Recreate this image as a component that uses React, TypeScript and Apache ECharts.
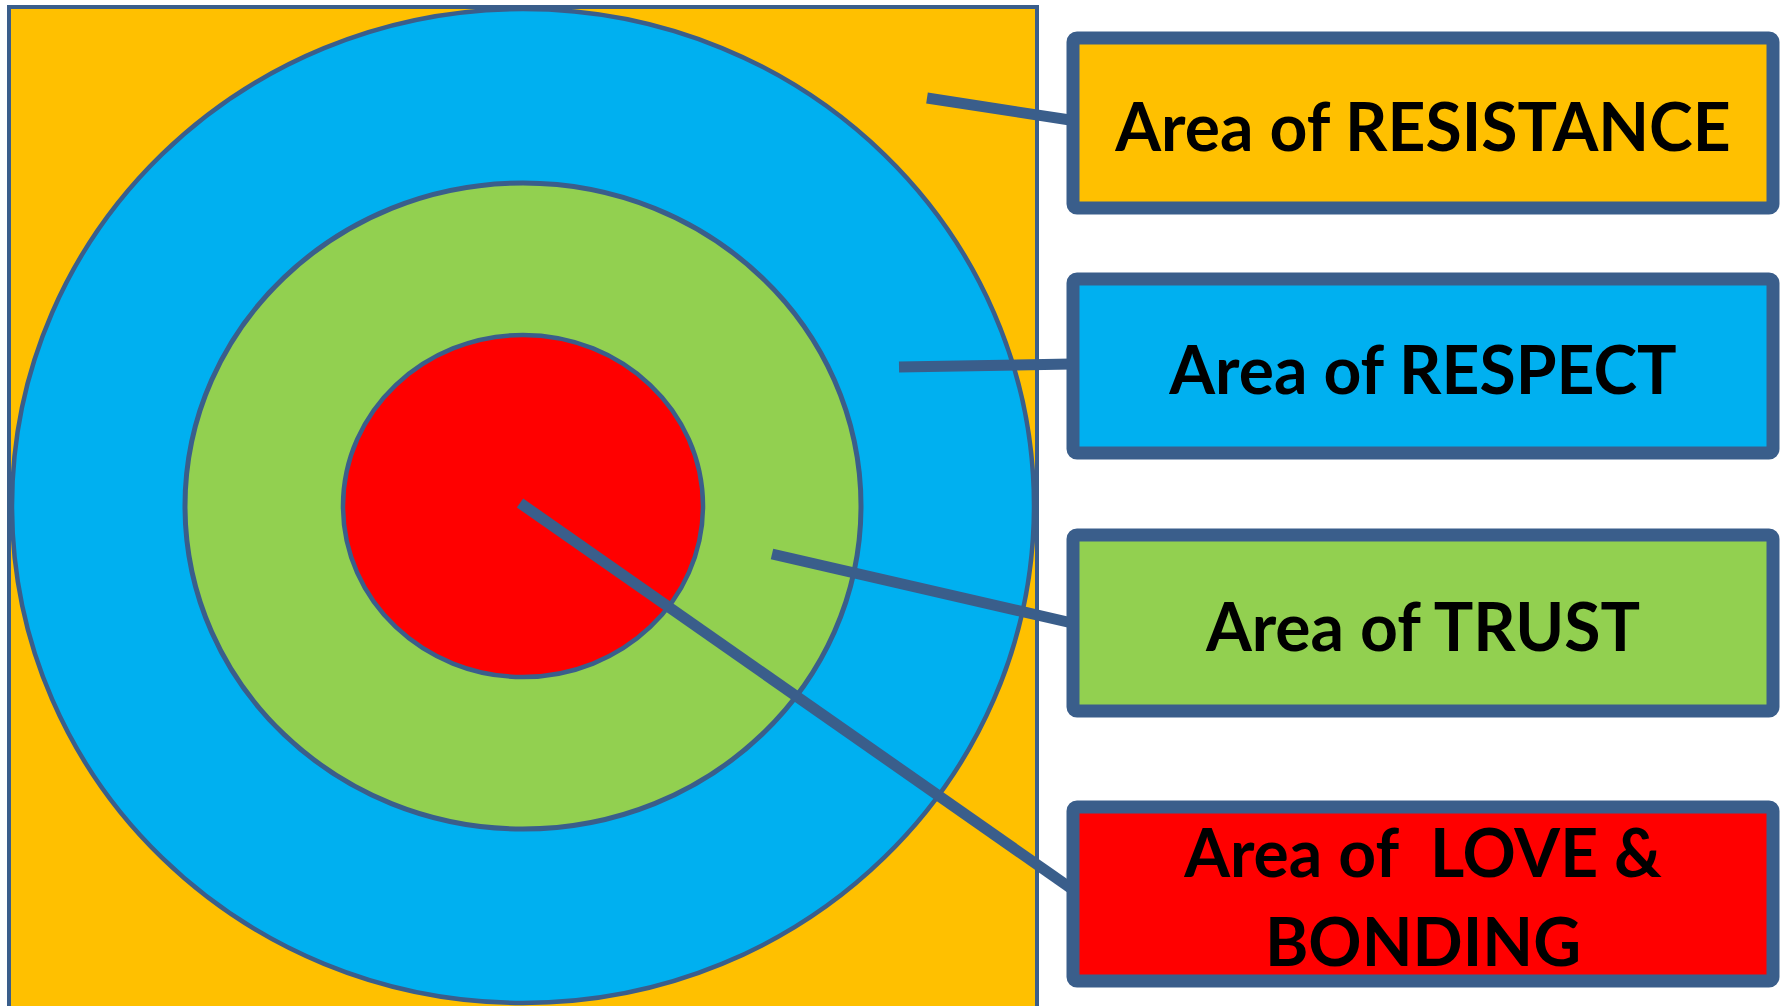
import React, { useEffect, useRef } from "react";
import * as echarts from "echarts";

// ---- Content ----
const zoneLabels: string[] = [
  "Area of RESISTANCE",
  "Area of RESPECT",
  "Area of TRUST",
  "Area of  LOVE &\nBONDING",
];
const zoneColors: string[] = ["#FFC000", "#00B0F0", "#92D050", "#FF0000"];

// ---- Layout (pixels) ----
const W = 1787;
const H = 1006;
const EDGE = "#3A5E8B";
const CX = 523;
const CY = 506;
const ringRX = [511, 338, 180];
const ringRY = [497, 323, 171];
const ringStroke = [4.5, 5, 4.5];
const boxX = 1073;
const boxW = 700;
const boxTop = [38, 279, 535, 807];
const boxH = [170, 174, 176, 174];
const boxStroke = 13;
const connectorStart: [number, number][] = [
  [927, 98],
  [899, 367],
  [772, 554],
  [520, 503],
];
const connectorEnd: [number, number][] = [
  [1083, 122],
  [1072, 364],
  [1072, 623],
  [1072, 889],
];

export default function App() {
  const ref = useRef<HTMLDivElement>(null);
  useEffect(() => {
    document.body.style.margin = "0";
    if (!ref.current) return;
    const chart = echarts.init(ref.current, null, { renderer: "svg" });
    const elements: any[] = [];
    // orange background square
    elements.push({
      type: "rect",
      shape: { x: 9, y: 7, width: 1028, height: 1010 },
      style: { fill: zoneColors[0], stroke: EDGE, lineWidth: 4 },
    });
    // concentric ellipses
    for (let i = 0; i < ringRX.length; i++) {
      elements.push({
        type: "ellipse",
        shape: { cx: CX, cy: CY, rx: ringRX[i], ry: ringRY[i] },
        style: { fill: zoneColors[i + 1], stroke: EDGE, lineWidth: ringStroke[i] },
      });
    }
    // connectors
    for (let i = 0; i < connectorStart.length; i++) {
      elements.push({
        type: "line",
        shape: {
          x1: connectorStart[i][0],
          y1: connectorStart[i][1],
          x2: connectorEnd[i][0],
          y2: connectorEnd[i][1],
        },
        style: { stroke: EDGE, lineWidth: 11, lineCap: "butt" },
      });
    }
    // label boxes
    for (let i = 0; i < zoneLabels.length; i++) {
      elements.push({
        type: "rect",
        shape: { x: boxX, y: boxTop[i], width: boxW, height: boxH[i], r: 4 },
        style: { fill: zoneColors[i], stroke: EDGE, lineWidth: boxStroke },
      });
      elements.push({
        type: "text",
        x: boxX + boxW / 2,
        y: boxTop[i] + boxH[i] / 2 + 2,
        style: {
          text: zoneLabels[i],
          fill: "#000000",
          fontFamily: "Lato",
          fontWeight: "bold",
          fontSize: 66,
          lineHeight: 89,
          align: "center",
          verticalAlign: "middle",
        },
      });
    }
    chart.setOption({
      animation: false,
      backgroundColor: "#ffffff",
      graphic: { elements },
    });
    return () => chart.dispose();
  }, []);
  return <div ref={ref} style={{ width: W, height: H }} />;
}
